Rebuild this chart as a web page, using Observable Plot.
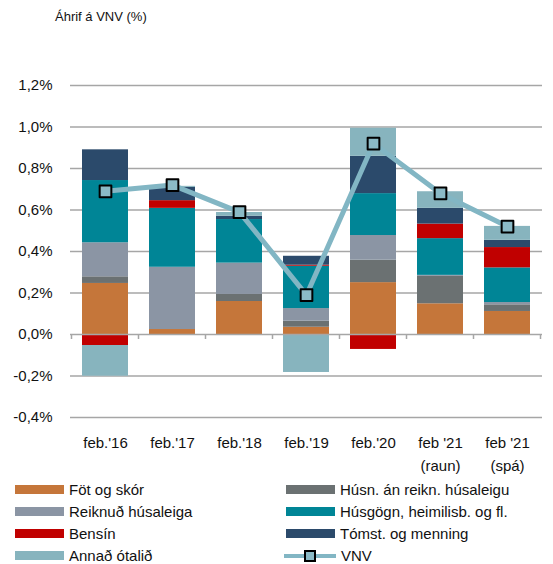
<!DOCTYPE html>
<html>
<head>
<meta charset="utf-8">
<script src="https://cdn.jsdelivr.net/npm/d3@7"></script>
<script src="https://cdn.jsdelivr.net/npm/@observablehq/plot@0.6"></script>
<style>
  html, body { margin: 0; padding: 0; background: #fff; }
  #wrap { position: relative; width: 553px; height: 564px; font-family: "Liberation Sans", Arial, sans-serif; color: #111; }
  #title { position: absolute; left: 55px; top: 9px; font-size: 13px; }
  #chart { position: absolute; left: 0; top: 0; }
  #legend { position: absolute; left: 15px; top: 478px; display: grid; grid-template-columns: 271px 260px; grid-auto-rows: 22.2px; font-size: 15px; }
  .item { display: flex; align-items: center; white-space: nowrap; }
  .sw { width: 49px; height: 9px; margin-right: 5px; flex: none; }
</style>
</head>
<body>
<div id="wrap">
  <div id="chart"></div>
  <div id="title">Áhrif á VNV (%)</div>
  <div id="legend"></div>
</div>
<script>
const categories = ["feb.'16", "feb.'17", "feb.'18", "feb.'19", "feb.'20", "feb '21\n(raun)", "feb '21\n(spá)"];
const series = ["Föt og skór", "Húsn. án reikn. húsaleigu", "Reiknuð húsaleiga", "Húsgögn, heimilisb. og fl.", "Bensín", "Tómst. og menning", "Annað ótalið"];
const fot     = [0.246, 0.024, 0.159, 0.035, 0.250, 0.148, 0.111];
const husn    = [0.032, 0.000, 0.034, 0.029, 0.108, 0.132, 0.032];
const reikn   = [0.164, 0.300, 0.151, 0.061, 0.119, 0.005, 0.011];
const husgogn = [0.300, 0.284, 0.210, 0.204, 0.202, 0.177, 0.167];
const bensin  = [-0.053, 0.037, 0.000, 0.005, -0.072, 0.070, 0.098];
const tomst   = [0.148, 0.064, 0.016, 0.043, 0.180, 0.076, 0.035];
const annad   = [-0.148, 0.005, 0.018, -0.183, 0.135, 0.080, 0.067];
const vnv     = [0.69, 0.72, 0.59, 0.19, 0.92, 0.68, 0.52];
const yTicks  = [-0.4, -0.2, 0, 0.2, 0.4, 0.6, 0.8, 1.0, 1.2];
const lineName = "VNV";

const colors = ["#C5763A", "#6B7172", "#8B95A4", "#008596", "#C00000", "#2B4A6B", "#87B4BE"];

const seriesValues = [fot, husn, reikn, husgogn, bensin, tomst, annad];
const rows = series.flatMap((s, si) => categories.map((c, ci) => ({cat: c, series: s, value: seriesValues[si][ci]})));
const vnvRows = categories.map((c, i) => ({cat: c, value: vnv[i]}));

function bandTicks(index, scales) {
  const x = scales.x, y = scales.y;
  const step = x.step(), bw = x.bandwidth();
  const y0 = y(0);
  const bounds = categories.map(c => x(c) - (step - bw) / 2);
  bounds.push(bounds[bounds.length - 1] + step);
  const g = d3.create("svg:g");
  g.selectAll("line").data(bounds).join("line")
    .attr("x1", d => d).attr("x2", d => d)
    .attr("y1", y0).attr("y2", y0 + 5)
    .attr("stroke", "#a6a6a6").attr("stroke-width", 1.5);
  return g.node();
}

const fmt = d => d.toFixed(1).replace(".", ",") + "%";

const chart = Plot.plot({
  width: 553,
  height: 475,
  marginLeft: 70,
  marginRight: 11,
  marginTop: 85,
  marginBottom: 58,
  style: {fontFamily: "'Liberation Sans', Arial, sans-serif", fontSize: "15px", color: "#111", background: "transparent"},
  x: {domain: categories, paddingInner: 0.316, paddingOuter: 0.158, label: null},
  y: {domain: [-0.4, 1.2], label: null},
  color: {domain: series, range: colors},
  marks: [
    Plot.ruleY(yTicks.filter(d => d !== 0), {stroke: "#a6a6a6", strokeWidth: 1.6}),
    Plot.barY(rows, {x: "cat", y: "value", fill: "series", order: series}),
    Plot.ruleY([0], {stroke: "#a6a6a6", strokeWidth: 1.6}),
    bandTicks,
    Plot.lineY(vnvRows, {x: "cat", y: "value", stroke: "#82B6C4", strokeWidth: 5}),
    Plot.dot(vnvRows, {x: "cat", y: "value", symbol: "square", r: 6.6, fill: "#8BBAC6", stroke: "#000", strokeWidth: 2, strokeLinejoin: "round"}),
    Plot.axisY({ticks: yTicks, tickSize: 0, tickPadding: 18, tickFormat: fmt, fill: "#111"}),
    Plot.axisX({tickSize: 0, tickPadding: 15, lineHeight: 1.5, fill: "#111"})
  ]
});
document.getElementById("chart").appendChild(chart);

const legend = document.getElementById("legend");
series.forEach((s, i) => {
  const item = document.createElement("div");
  item.className = "item";
  item.innerHTML = `<span class="sw" style="background:${colors[i]}"></span><span>${s}</span>`;
  legend.appendChild(item);
});
const vItem = document.createElement("div");
vItem.className = "item";
vItem.innerHTML = `<svg width="54" height="14" style="margin-left:-2px;margin-right:3px;flex:none"><line x1="0" x2="52" y1="7" y2="7" stroke="#82B6C4" stroke-width="4"/><rect x="21" y="2" width="10" height="10" fill="#8BBAC6" stroke="#000" stroke-width="2"/></svg><span>${lineName}</span>`;
legend.appendChild(vItem);
</script>
</body>
</html>
